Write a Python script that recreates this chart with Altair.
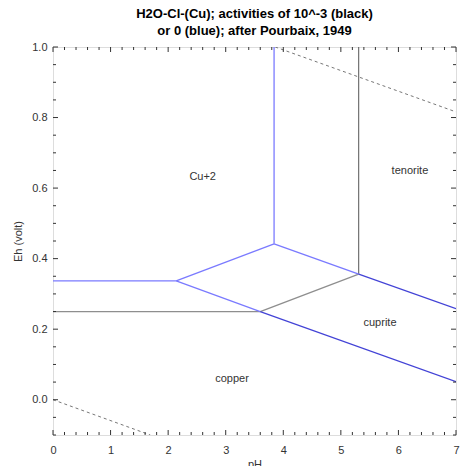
import altair as alt
import pandas as pd

# ---- boundaries (pH, Eh in volt) ----
# activity 1 ("0", blue)
cu2_cu_pH = [0.0, 2.14]
cu2_cu_Eh = [0.337, 0.337]
cu2_cuprite_blue_pH = [2.14, 3.84]
cu2_cuprite_blue_Eh = [0.337, 0.442]
cu2_tenorite_blue_pH = [3.84, 3.84]
cu2_tenorite_blue_Eh = [0.442, 1.0]
tenorite_cuprite_blue_pH = [3.84, 5.31]
tenorite_cuprite_blue_Eh = [0.442, 0.356]
cuprite_copper_blue_pH = [2.14, 3.60]
cuprite_copper_blue_Eh = [0.337, 0.250]

# activity 10^-3 (black)
cu2_cu_black_pH = [0.0, 3.60]
cu2_cu_black_Eh = [0.250, 0.250]
cu2_cuprite_black_pH = [3.60, 5.31]
cu2_cuprite_black_Eh = [0.250, 0.356]
cu2_tenorite_black_pH = [5.31, 5.31]
cu2_tenorite_black_Eh = [0.356, 1.0]

# shared (both activities)
tenorite_cuprite_both_pH = [5.31, 7.0]
tenorite_cuprite_both_Eh = [0.356, 0.258]
cuprite_copper_both_pH = [3.60, 7.0]
cuprite_copper_both_Eh = [0.250, 0.051]

# water stability limits (dashed)
o2_pH = [3.86, 7.0]
o2_Eh = [1.0, 0.816]
h2_pH = [0.0, 1.69]
h2_Eh = [0.0, -0.1]

# field labels
label_text = ["Cu+2", "tenorite", "cuprite", "copper"]
label_pH = [2.6, 6.2, 5.68, 3.11]
label_Eh = [0.632, 0.649, 0.218, 0.06]

# axis ticks
x_major = [0, 1, 2, 3, 4, 5, 6, 7]
x_minor = [i / 5 for i in range(0, 36) if i % 5 != 0]
y_major = [0.0, 0.2, 0.4, 0.6, 0.8, 1.0]
y_minor = [-0.1, -0.05, 0.05, 0.1, 0.15, 0.25, 0.3, 0.35, 0.45, 0.5, 0.55,
           0.65, 0.7, 0.75, 0.85, 0.9, 0.95]

W, H = 403, 388
FONT = "Liberation Sans"

segments = [
    ("cu2_cu_black", "black", cu2_cu_black_pH, cu2_cu_black_Eh),
    ("cu2_cuprite_black", "black", cu2_cuprite_black_pH, cu2_cuprite_black_Eh),
    ("cu2_tenorite_black", "blackv", cu2_tenorite_black_pH, cu2_tenorite_black_Eh),
    ("cu2_cu", "blue", cu2_cu_pH, cu2_cu_Eh),
    ("cu2_cuprite_blue", "blue", cu2_cuprite_blue_pH, cu2_cuprite_blue_Eh),
    ("cu2_tenorite_blue", "blue", cu2_tenorite_blue_pH, cu2_tenorite_blue_Eh),
    ("tenorite_cuprite_blue", "blue", tenorite_cuprite_blue_pH, tenorite_cuprite_blue_Eh),
    ("cuprite_copper_blue", "blue", cuprite_copper_blue_pH, cuprite_copper_blue_Eh),
    ("tenorite_cuprite_both", "both", tenorite_cuprite_both_pH, tenorite_cuprite_both_Eh),
    ("cuprite_copper_both", "both", cuprite_copper_both_pH, cuprite_copper_both_Eh),
    ("o2", "water", o2_pH, o2_Eh),
    ("h2", "water", h2_pH, h2_Eh),
]
rows = []
for name, style, xs, ys in segments:
    for i, (a, b) in enumerate(zip(xs, ys)):
        rows.append({"seg": name, "style": style, "pH": a, "Eh": b, "i": i})
df = pd.DataFrame(rows)

xscale = alt.Scale(domain=[0, 7], nice=False, zero=False)
yscale = alt.Scale(domain=[-0.1, 1.0], nice=False, zero=False)

xaxis = alt.Axis(values=x_major, format="d", title="pH", grid=False, ticks=False,
                 tickSize=0, domain=False, labelFont=FONT, labelFontSize=11,
                 labelColor="#333", labelPadding=9, titleFont=FONT,
                 titleFontSize=11, titleFontWeight="normal", titleColor="#333",
                 titlePadding=3, labelFlush=False)
yaxis = alt.Axis(values=y_major, format=".1f", title="Eh (volt)", grid=False,
                 ticks=False, tickSize=0, domain=False, labelFont=FONT,
                 labelFontSize=11, labelColor="#333", labelPadding=6,
                 titleFont=FONT, titleFontSize=11, titleFontWeight="normal",
                 titleColor="#333", titlePadding=8, labelFlush=False)

base = alt.Chart(df)


def seg_layer(style, color, width=1.0, dash=None):
    kw = dict(color=color, strokeWidth=width, clip=True)
    if dash:
        kw["strokeDash"] = dash
    return base.transform_filter(alt.datum.style == style).mark_line(**kw).encode(
        x=alt.X("pH:Q", scale=xscale, axis=xaxis),
        y=alt.Y("Eh:Q", scale=yscale, axis=yaxis),
        detail="seg:N",
        order="i:Q",
    )


water = seg_layer("water", "#777777", 1.0, [3, 3])
black = seg_layer("black", "#8e8e8e", 1.3)
blackv = seg_layer("blackv", "#555555", 1.0)
blue = seg_layer("blue", "#7a7aff", 1.3)
both = seg_layer("both", "#4343d6", 1.3)

labels = alt.Chart(pd.DataFrame({"t": label_text, "pH": label_pH, "Eh": label_Eh})).mark_text(
    font=FONT, fontSize=11, color="#333"
).encode(x=alt.X("pH:Q", scale=xscale), y=alt.Y("Eh:Q", scale=yscale), text="t:N")

tick_color = "#333"
xmaj = pd.DataFrame({"v": x_major})
xmin = pd.DataFrame({"v": x_minor})
ymaj = pd.DataFrame({"v": y_major})
ymin = pd.DataFrame({"v": y_minor})


def xticks(d, size):
    bot = alt.Chart(d).mark_rule(color=tick_color, strokeWidth=1).encode(
        x=alt.X("v:Q", scale=xscale), y=alt.value(H), y2=alt.value(H - size))
    top = alt.Chart(d).mark_rule(color=tick_color, strokeWidth=1).encode(
        x=alt.X("v:Q", scale=xscale), y=alt.value(0), y2=alt.value(size))
    return bot + top


def yticks(d, size):
    left = alt.Chart(d).mark_rule(color=tick_color, strokeWidth=1).encode(
        y=alt.Y("v:Q", scale=yscale), x=alt.value(0), x2=alt.value(size))
    right = alt.Chart(d).mark_rule(color=tick_color, strokeWidth=1).encode(
        y=alt.Y("v:Q", scale=yscale), x=alt.value(W), x2=alt.value(W - size))
    return left + right


chart = alt.layer(
    water, black, blackv, blue, both, labels,
    xticks(xmaj, 5), xticks(xmin, 3), yticks(ymaj, 5), yticks(ymin, 3),
).properties(
    width=W,
    height=H,
    padding={"left": 53, "top": 47, "right": 4, "bottom": 31},
    autosize=alt.AutoSizeParams(type="none"),
    title=alt.TitleParams(
        ["H2O-Cl-(Cu); activities of 10^-3 (black)", "or 0 (blue); after Pourbaix, 1949"],
        font=FONT, fontSize=13, fontWeight="bold", color="#000", anchor="middle",
        offset=3, lineHeight=17,
    ),
).configure_view(stroke="#333", strokeWidth=1.2).configure(background="white")

chart.save("out.html", embed_options={"renderer": "svg", "actions": False})
